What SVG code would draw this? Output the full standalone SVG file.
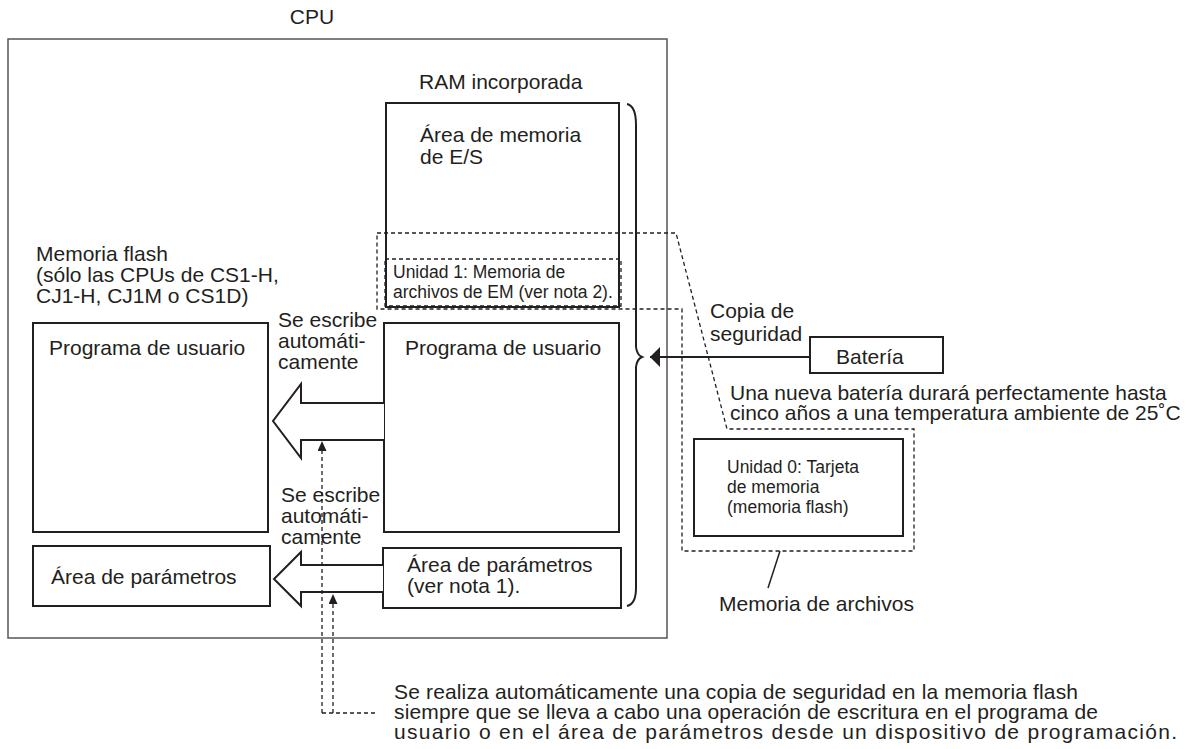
<svg xmlns="http://www.w3.org/2000/svg" width="1193" height="749" viewBox="0 0 1193 749">
<defs>
<style>
text{font-family:"Liberation Sans",Arial,Helvetica,sans-serif;font-size:21px;fill:#231f20}
.s{font-size:17.5px}
.box{fill:#fff;stroke:#231f20;stroke-width:2}
.cpu{fill:none;stroke:#555;stroke-width:1.5}
.dash{fill:none;stroke:#231f20;stroke-width:1.3;stroke-dasharray:4 3}
.big{fill:#fff;stroke:#231f20;stroke-width:2;stroke-linejoin:miter}
.line{fill:none;stroke:#231f20;stroke-width:2}
.thin{fill:none;stroke:#231f20;stroke-width:1.5}
</style>
<marker id="ah" viewBox="0 0 10 20" refX="10" refY="10" markerWidth="10" markerHeight="20" markerUnits="userSpaceOnUse" orient="auto"><path d="M0,0 L10,10 L0,20 Z" fill="#231f20"/></marker>
<marker id="ahs" viewBox="0 0 10 9" refX="10" refY="4.5" markerWidth="10" markerHeight="9" markerUnits="userSpaceOnUse" orient="auto"><path d="M0,0 L10,4.5 L0,9 Z" fill="#231f20"/></marker>
</defs>
<rect width="1193" height="749" fill="#fff"/>

<g id="cpu">
<text x="312" y="24" text-anchor="middle">CPU</text>
<rect class="cpu" x="8" y="39" width="659" height="599"/>
</g>

<g id="ram-label"><text x="419" y="89">RAM incorporada</text></g>

<g id="ram-io">
<rect class="box" x="386" y="103" width="233" height="204"/>
<text x="420" y="142">Área de memoria</text>
<text x="420" y="164">de E/S</text>
</g>

<g id="unit1">
<rect class="dash" x="385" y="259" width="236" height="47"/>
<text class="s" x="393" y="278">Unidad 1: Memoria de</text>
<text class="s" x="393" y="298">archivos de EM (ver nota 2).</text>
</g>

<g id="flash-label">
<text x="36" y="261">Memoria flash</text>
<text x="36" y="282">(sólo las CPUs de CS1-H,</text>
<text x="36" y="303">CJ1-H, CJ1M o CS1D)</text>
</g>

<g id="flash-prog">
<rect class="box" x="33" y="323" width="235" height="209"/>
<text x="49" y="355">Programa de usuario</text>
</g>

<g id="ram-prog">
<rect class="box" x="384" y="323" width="235" height="209"/>
<text x="405" y="355">Programa de usuario</text>
</g>

<g id="flash-param">
<rect class="box" x="33" y="546" width="237" height="60"/>
<text x="51" y="584">Área de parámetros</text>
</g>

<g id="ram-param">
<rect class="box" x="383" y="548" width="238" height="60"/>
<text x="407" y="572">Área de parámetros</text>
<text x="407" y="593">(ver nota 1).</text>
</g>

<g id="battery">
<rect class="box" x="810" y="337" width="133" height="36"/>
<text x="836" y="364">Batería</text>
</g>

<g id="unit0">
<rect class="box" x="694" y="439" width="209" height="97"/>
<text class="s" x="727" y="473">Unidad 0: Tarjeta</text>
<text class="s" x="727" y="493">de memoria</text>
<text class="s" x="727" y="513">(memoria flash)</text>
</g>

<g id="labels">
<text x="278" y="327">Se escribe</text>
<text x="278" y="348">automáti-</text>
<text x="278" y="369">camente</text>
<text x="281" y="502">Se escribe</text>
<text x="281" y="523">automáti-</text>
<text x="281" y="544">camente</text>
<text x="710" y="318">Copia de</text>
<text x="710" y="341">seguridad</text>
<text x="730" y="400">Una nueva batería durará perfectamente hasta</text>
<text x="730" y="420">cinco años a una temperatura ambiente de 25˚C</text>
<text x="719" y="611">Memoria de archivos</text>
<text x="394" y="699" textLength="684" lengthAdjust="spacing">Se realiza automáticamente una copia de seguridad en la memoria flash</text>
<text x="394" y="719" textLength="704" lengthAdjust="spacing">siempre que se lleva a cabo una operación de escritura en el programa de</text>
<text x="394" y="739" textLength="783" lengthAdjust="spacing">usuario o en el área de parámetros desde un dispositivo de programación.</text>
</g>

<g id="connectors">
<path class="dash" d="M377,233 H676 L727,429 H914 V551 H682 V309 H377 Z"/>
<path class="line" d="M627,104 Q636,106 636,125 L636,347 Q637,355 642,357 Q637,359 636,367 L636,588 Q636,604 627,606"/>
<line class="line" x1="810" y1="357" x2="650" y2="357" marker-end="url(#ah)"/>
<polyline class="big" points="384,403 301,403 301,384 273,421 301,458 301,440 384,440"/>
<polyline class="big" points="383,565 301,565 301,552 274,579 301,606 301,592 383,592"/>
<path class="dash" d="M322,713 V441" marker-end="url(#ahs)"/>
<path class="dash" d="M333,713 V594" marker-end="url(#ahs)"/>
<path class="dash" d="M322,713 H377"/>
<line class="thin" x1="780" y1="551" x2="768" y2="588"/>
</g>
</svg>
